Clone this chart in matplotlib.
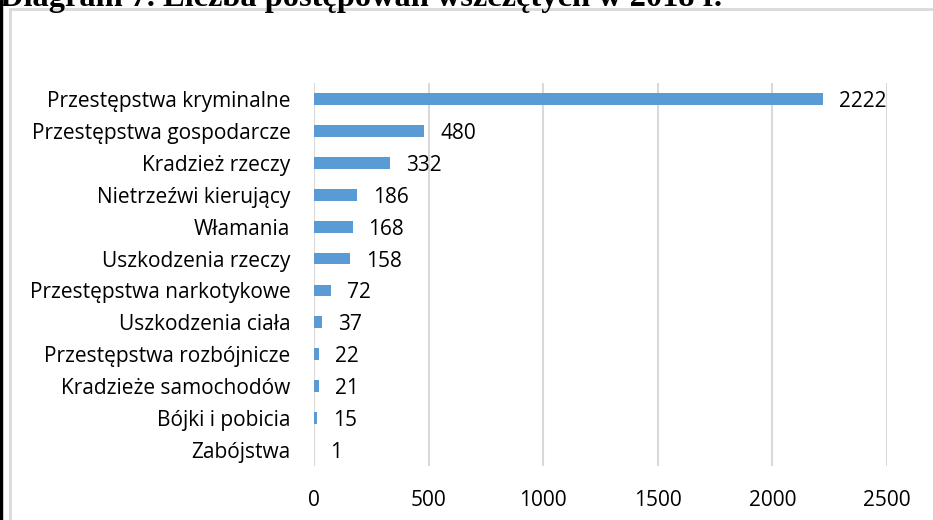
import matplotlib.pyplot as plt
from matplotlib.patches import Rectangle

categories = ['Przestępstwa kryminalne', 'Przestępstwa gospodarcze', 'Kradzież rzeczy',
              'Nietrzeźwi kierujący', 'Włamania', 'Uszkodzenia rzeczy',
              'Przestępstwa narkotykowe', 'Uszkodzenia ciała', 'Przestępstwa rozbójnicze',
              'Kradzieże samochodów', 'Bójki i pobicia', 'Zabójstwa']
values = [2222, 480, 332, 186, 168, 158, 72, 37, 22, 21, 15, 1]
xticks = [0, 500, 1000, 1500, 2000, 2500]

W, H = 933, 520
FONT = 'Open Sans'
FS = 15
fig = plt.figure(figsize=(W / 100, H / 100), dpi=100)

# page decorations: black left strip and grey chart frame
fig.patches.append(Rectangle((0, 0), 2 / W, 1, transform=fig.transFigure,
                             color='black', zorder=0))
fig.patches.append(Rectangle((10 / W, -0.1), 1.2, 1 - 9 / H + 0.1, transform=fig.transFigure,
                             fill=False, edgecolor='#d9d9d9', linewidth=2, zorder=0))
fig.text(0, 1 - 6 / H, 'Diagram 7. Liczba postępowań wszczętych w 2018 r.',
         fontfamily='Liberation Serif', fontweight='bold', fontsize=23.3,
         ha='left', va='baseline')

ax = fig.add_axes([314 / W, 1 - 466 / H, (887 - 314) / W, (466 - 83) / H])
y = list(range(len(categories)))
ax.barh(y, values, height=0.37, color='#5b9bd5', zorder=2)
for yi, v in zip(y, values):
    ax.text(v + 70, yi, str(v), va='center_baseline', ha='left', fontsize=FS,
            fontfamily=FONT, zorder=3)

ax.set_ylim(len(categories) - 0.5, -0.5)
ax.set_xlim(0, 2500)
ax.set_xticks(xticks)
ax.set_yticks(y)
ax.set_yticklabels(categories, fontfamily=FONT, fontsize=FS)
ax.tick_params(axis='x', labelsize=FS, length=0, pad=17)
ax.tick_params(axis='y', length=0, pad=17)
for lab in ax.get_xticklabels():
    lab.set_fontfamily(FONT)
ax.grid(axis='x', color='#d9d9d9', linewidth=1.5, zorder=0)
for s in ax.spines.values():
    s.set_visible(False)

fig.savefig('out.png', dpi=100)
